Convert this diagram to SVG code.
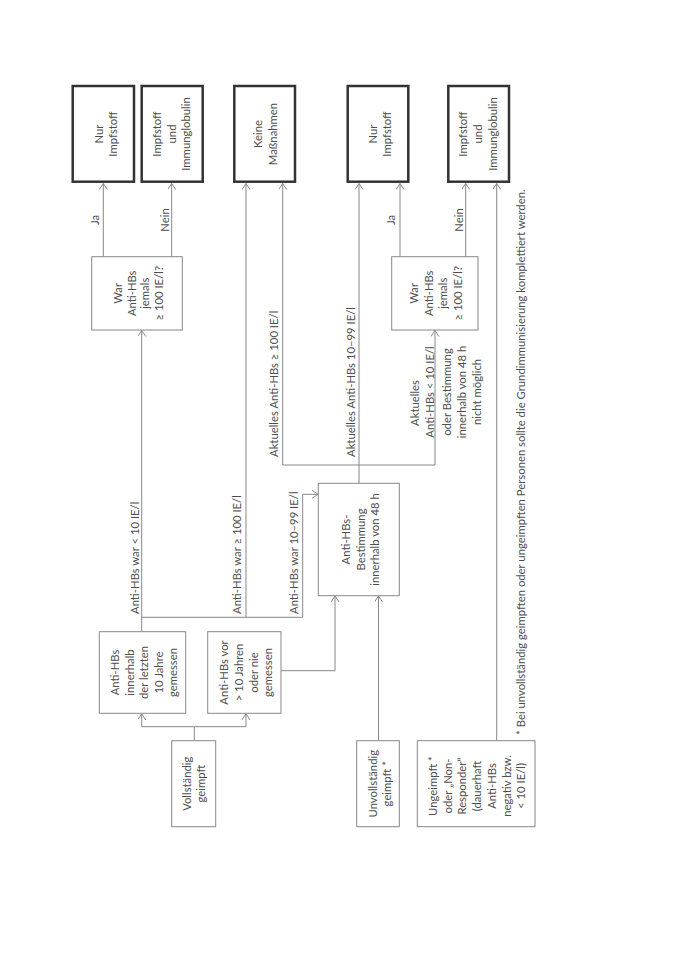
<svg xmlns="http://www.w3.org/2000/svg" width="680" height="960" viewBox="0 0 680 960">
<style>
text{font-family:Lato,"Open Sans","Liberation Sans",sans-serif;font-size:11.3px;fill:#4d4d4d}
.m{text-anchor:middle}
.s{text-anchor:start}
.thick{fill:#fff;stroke:#333;stroke-width:2.5}
.thin{fill:#fff;stroke:#888;stroke-width:1}
.c path{fill:none;stroke:#888;stroke-width:1}
</style>
<defs>
<marker id="ah" markerUnits="userSpaceOnUse" markerWidth="10" markerHeight="10" refX="6" refY="4" orient="auto">
<path d="M0,0 L6,4 L0,8" fill="none" stroke="#888" stroke-width="1"/>
</marker>
</defs>
<rect width="680" height="960" fill="#fff"/>

<g class="c">
<path d="M103.3,256.7 V183.5" marker-end="url(#ah)"/>
<path d="M171.7,256.7 V183.5" marker-end="url(#ah)"/>
<path d="M141.7,631.7 V330.5" marker-end="url(#ah)"/>
<path d="M141.7,617.3 H302.7 V494.3 H318" marker-end="url(#ah)"/>
<path d="M246,617.3 V183.5" marker-end="url(#ah)"/>
<path d="M281,670.7 H335 V596" marker-end="url(#ah)"/>
<path d="M378.5,740.7 V596" marker-end="url(#ah)"/>
<path d="M359,483.3 V183.5" marker-end="url(#ah)"/>
<path d="M282.7,465 H435 V330.5" marker-end="url(#ah)"/>
<path d="M282.7,465 V183.5" marker-end="url(#ah)"/>
<path d="M400,256.7 V183.5" marker-end="url(#ah)"/>
<path d="M465.7,256.7 V183.5" marker-end="url(#ah)"/>
<path d="M496.7,740.7 V183.5" marker-end="url(#ah)"/>
<path d="M194.3,740.7 V726.7"/>
<path d="M194.3,726.7 H141.7 V713.8" marker-end="url(#ah)"/>
<path d="M194.3,726.7 H246 V713.8" marker-end="url(#ah)"/>
</g>

<g id="n-nur1">
<rect class="thick" x="72.7" y="86" width="61.3" height="95.7"/>
<text class="m" transform="translate(0,134) rotate(-90)"><tspan x="0" y="103">Nur</tspan><tspan x="0" y="117">Impfstoff</tspan></text>
</g>
<g id="n-ig1">
<rect class="thick" x="141.7" y="86" width="61" height="95.7"/>
<text class="m" transform="translate(0,134) rotate(-90)"><tspan x="0" y="161">Impfstoff</tspan><tspan x="0" y="175.5">und</tspan><tspan x="0" y="190">Immunglobulin</tspan></text>
</g>
<g id="n-keine">
<rect class="thick" x="234.3" y="86" width="60.7" height="95.7"/>
<text class="m" transform="translate(0,134) rotate(-90)"><tspan x="0" y="261.5">Keine</tspan><tspan x="0" y="276.5">Maßnahmen</tspan></text>
</g>
<g id="n-nur2">
<rect class="thick" x="347.7" y="86" width="60.6" height="95.7"/>
<text class="m" transform="translate(0,134) rotate(-90)"><tspan x="0" y="377">Nur</tspan><tspan x="0" y="391">Impfstoff</tspan></text>
</g>
<g id="n-ig2">
<rect class="thick" x="448.3" y="86" width="60.7" height="95.7"/>
<text class="m" transform="translate(0,134) rotate(-90)"><tspan x="0" y="467">Impfstoff</tspan><tspan x="0" y="482">und</tspan><tspan x="0" y="497">Immunglobulin</tspan></text>
</g>

<g id="n-war1">
<rect class="thin" x="91.7" y="256.7" width="90.6" height="73.3"/>
<text class="m" transform="translate(0,293.3) rotate(-90)"><tspan x="0" y="121.5">War</tspan><tspan x="0" y="135.5">Anti-HBs</tspan><tspan x="0" y="149">jemals</tspan><tspan x="0" y="163">≥ 100 IE/l?</tspan></text>
</g>
<g id="n-war2">
<rect class="thin" x="391.7" y="256.7" width="86.3" height="73.3"/>
<text class="m" transform="translate(0,293.3) rotate(-90)"><tspan x="0" y="418">War</tspan><tspan x="0" y="432.5">Anti-HBs</tspan><tspan x="0" y="447">jemals</tspan><tspan x="0" y="461.5">≥ 100 IE/l?</tspan></text>
</g>
<g id="n-best">
<rect class="thin" x="318.3" y="483.3" width="81" height="112.4"/>
<text class="m" transform="translate(0,539.5) rotate(-90)"><tspan x="0" y="350">Anti-HBs-</tspan><tspan x="0" y="364.5">Bestimmung</tspan><tspan x="0" y="379">innerhalb von 48 h</tspan></text>
</g>
<g id="n-a">
<rect class="thin" x="99.3" y="631.7" width="86.4" height="81.6"/>
<text class="m" transform="translate(0,672.5) rotate(-90)"><tspan x="0" y="119">Anti-HBs</tspan><tspan x="0" y="133.5">innerhalb</tspan><tspan x="0" y="148">der letzten</tspan><tspan x="0" y="162.5">10 Jahre</tspan><tspan x="0" y="177">gemessen</tspan></text>
</g>
<g id="n-b">
<rect class="thin" x="207.7" y="631.7" width="73.3" height="81.6"/>
<text class="m" transform="translate(0,672.5) rotate(-90)"><tspan x="0" y="228">Anti-HBs vor</tspan><tspan x="0" y="243">&gt; 10 Jahren</tspan><tspan x="0" y="257.5">oder nie</tspan><tspan x="0" y="272">gemessen</tspan></text>
</g>
<g id="n-voll">
<rect class="thin" x="171.7" y="740.7" width="44" height="86"/>
<text class="m" transform="translate(0,783.7) rotate(-90)"><tspan x="0" y="191">Vollständig</tspan><tspan x="0" y="205">geimpft</tspan></text>
</g>
<g id="n-unvoll">
<rect class="thin" x="356.7" y="740.7" width="42.6" height="86"/>
<text class="m" transform="translate(0,783.7) rotate(-90)"><tspan x="0" y="376.5">Unvollständig</tspan><tspan x="0" y="391">geimpft *</tspan></text>
</g>
<g id="n-ungeimpft">
<rect class="thin" x="417.3" y="740.7" width="117.7" height="86"/>
<text class="m" transform="translate(0,786) rotate(-90)"><tspan x="0" y="437">Ungeimpft *</tspan><tspan x="0" y="451.7">oder „Non-</tspan><tspan x="0" y="466.4">Responder“</tspan><tspan x="0" y="481.1">(dauerhaft</tspan><tspan x="0" y="495.8">Anti-HBs</tspan><tspan x="0" y="510.5">negativ bzw.</tspan><tspan x="0" y="525.2">&lt; 10 IE/l)</tspan></text>
</g>

<g id="labels">
<text class="m" transform="translate(0,220) rotate(-90)"><tspan x="0" y="98.5">Ja</tspan></text>
<text class="m" transform="translate(0,220) rotate(-90)"><tspan x="0" y="168.5">Nein</tspan></text>
<text class="m" transform="translate(0,220) rotate(-90)"><tspan x="0" y="395">Ja</tspan></text>
<text class="m" transform="translate(0,220) rotate(-90)"><tspan x="0" y="462.5">Nein</tspan></text>
<text class="s" transform="translate(0,614) rotate(-90)"><tspan x="0" y="138.5">Anti-HBs war &lt; 10 IE/l</tspan></text>
<text class="s" transform="translate(0,614) rotate(-90)"><tspan x="0" y="240.5">Anti-HBs war ≥ 100 IE/l</tspan></text>
<text class="s" transform="translate(0,614) rotate(-90)"><tspan x="0" y="298">Anti-HBs war 10–99 IE/l</tspan></text>
<text class="s" transform="translate(0,457) rotate(-90)"><tspan x="0" y="278">Aktuelles Anti-HBs ≥ 100 IE/l</tspan></text>
<text class="s" transform="translate(0,457) rotate(-90)"><tspan x="0" y="355">Aktuelles Anti-HBs 10–99 IE/l</tspan></text>
<text class="m" transform="translate(0,392) rotate(-90)"><tspan x="-11" y="419">Aktuelles</tspan><tspan x="0" y="434">Anti-HBs &lt; 10 IE/l</tspan><tspan x="0" y="451">oder Bestimmung</tspan><tspan x="0" y="466">innerhalb von 48 h</tspan><tspan x="0" y="481">nicht möglich</tspan></text>
<text class="s" transform="translate(0,735) rotate(-90)"><tspan x="0" y="525">*  Bei unvollständig geimpften oder ungeimpften Personen sollte die Grundimmunisierung komplettiert werden.</tspan></text>
</g>
</svg>
